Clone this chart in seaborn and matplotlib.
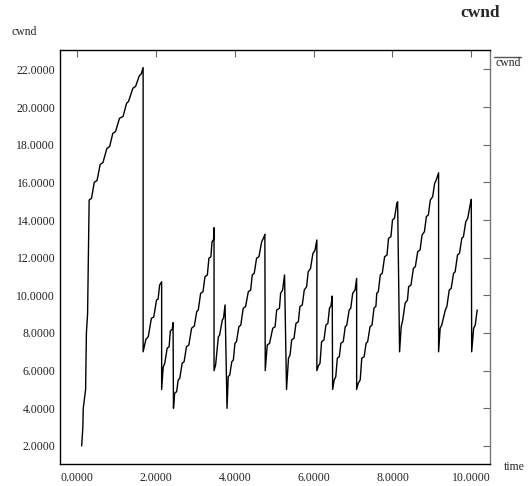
"""cwnd trace over time - xgraph style chart redrawn with seaborn"""
import pandas as pd
import matplotlib
matplotlib.use('Agg')
import matplotlib.pyplot as plt
import seaborn as sns
from matplotlib.lines import Line2D

# Data (time in s, cwnd in packets), one ramp per line
time_s = [
    0.11, 0.14, 0.15, 0.21, 0.23, 0.26, 0.30,
    0.36, 0.43, 0.50, 0.58, 0.65, 0.75, 0.82, 0.90, 0.97, 1.07, 1.16, 1.25, 1.30, 1.41, 1.48, 1.57, 1.62, 1.67,
    1.67, 1.74, 1.80, 1.88, 1.94, 2.01, 2.05, 2.09, 2.14,
    2.14, 2.18, 2.22, 2.28, 2.33, 2.36, 2.41, 2.43,
    2.44, 2.47, 2.52, 2.56, 2.60, 2.66, 2.71, 2.77, 2.83, 2.90, 2.97, 3.03, 3.07, 3.13, 3.19, 3.24, 3.30, 3.34, 3.39, 3.42, 3.46, 3.47,
    3.47, 3.51, 3.58, 3.61, 3.68, 3.71, 3.75,
    3.80, 3.83, 3.87, 3.92, 3.96, 4.00, 4.04, 4.10, 4.15, 4.21, 4.27, 4.34, 4.40, 4.44, 4.49, 4.55, 4.61, 4.68, 4.73, 4.76,
    4.77, 4.82, 4.88, 4.96, 5.02, 5.06, 5.13, 5.16, 5.21, 5.26,
    5.31, 5.36, 5.40, 5.44, 5.50, 5.55, 5.61, 5.65, 5.71, 5.76, 5.82, 5.86, 5.92, 5.98, 6.03, 6.08,
    6.08, 6.12, 6.16, 6.20, 6.26, 6.31, 6.36, 6.40, 6.44, 6.47,
    6.48, 6.52, 6.56, 6.60, 6.65, 6.69, 6.75, 6.80, 6.84, 6.90, 6.94, 6.99, 7.05, 7.09,
    7.09, 7.13, 7.18, 7.22, 7.28, 7.33, 7.37, 7.43, 7.48, 7.53, 7.58, 7.60, 7.64, 7.69, 7.74, 7.80, 7.86, 7.90, 7.96, 8.00, 8.05, 8.11, 8.13,
    8.18, 8.22, 8.26, 8.32, 8.38, 8.41, 8.47, 8.53, 8.58, 8.64, 8.70, 8.75, 8.81, 8.86, 8.91, 8.96, 9.02, 9.07, 9.11, 9.17,
    9.17, 9.21, 9.25, 9.34, 9.38, 9.44, 9.49, 9.55, 9.59, 9.65, 9.70, 9.76, 9.80, 9.86, 9.91, 9.97, 10.00,
    10.01, 10.06, 10.10, 10.15,
]
cwnd = [
    2.0, 3.0, 4.0, 5.0, 8.0, 9.0, 15.06,
    15.15, 16.0, 16.1, 16.95, 17.05, 17.8, 17.9, 18.6, 18.7, 19.4, 19.5, 20.2, 20.3, 21.0, 21.1, 21.65, 21.75, 22.1,
    7.0, 7.66, 7.8, 8.78, 8.85, 9.75, 9.8, 10.55, 10.72,
    5.0, 6.2, 6.39, 7.19, 7.27, 8.1, 8.2, 8.55,
    4.0, 4.8, 4.88, 5.5, 5.59, 6.39, 6.47, 7.27, 7.36, 8.25, 8.37, 9.13, 9.22, 10.11, 10.19, 10.99, 11.08, 11.97, 12.05, 12.85, 12.97, 13.59,
    6.0, 6.3, 7.8, 7.88, 8.69, 8.78, 9.49,
    4.0, 5.68, 5.77, 6.47, 6.56, 7.45, 7.54, 8.33, 8.42, 9.31, 9.4, 10.19, 10.28, 11.08, 11.17, 11.97, 12.05, 12.85, 13.06, 13.24,
    6.0, 7.36, 7.45, 8.25, 8.33, 9.22, 9.31, 10.11, 10.28, 11.08,
    5.0, 6.66, 6.83, 7.63, 7.72, 8.51, 8.6, 9.4, 9.49, 10.28, 10.46, 11.25, 11.43, 12.23, 12.37, 12.94,
    6.0, 6.26, 6.39, 7.54, 7.63, 8.42, 8.51, 9.31, 9.45, 9.96,
    5.0, 5.5, 5.68, 6.66, 6.74, 7.45, 7.54, 8.33, 8.42, 9.22, 9.31, 10.11, 10.28, 10.9,
    5.0, 5.33, 5.5, 6.66, 6.74, 7.45, 7.54, 8.33, 8.42, 9.31, 9.43, 10.11, 10.19, 11.08, 11.17, 12.05, 12.14, 13.03, 13.11, 14.0, 14.09, 14.89, 14.97,
    7.0, 8.33, 8.69, 9.58, 9.75, 10.46, 10.55, 11.43, 11.52, 12.32, 12.41, 13.2, 13.38, 14.18, 14.27, 15.06, 15.24, 15.95, 16.12, 16.51,
    7.0, 8.25, 8.42, 9.22, 9.4, 10.28, 10.37, 11.17, 11.25, 12.14, 12.23, 13.03, 13.11, 13.91, 14.09, 14.8, 15.1,
    7.0, 8.25, 8.42, 9.22,
]
x_ticks = [0, 2, 4, 6, 8, 10]
y_ticks = [2, 4, 6, 8, 10, 12, 14, 16, 18, 20, 22]

df = pd.DataFrame({'time': time_s, 'cwnd': cwnd})

sns.set_style('white')
plt.rcParams['font.family'] = ['Liberation Serif', 'DejaVu Serif']

fig = plt.figure(figsize=(5.3, 4.86), dpi=100)
ax = fig.add_axes([60 / 530, 1 - 464 / 486, 430 / 530, 414 / 486])

sns.lineplot(data=df, x='time', y='cwnd', sort=False, estimator=None,
             color='black', linewidth=1.0, ax=ax, legend=False)

ax.set_xlim(-0.44, 10.475)
ax.set_ylim(1.04, 23.03)
ax.set_xticks(x_ticks)
ax.set_yticks(y_ticks)
ax.set_xticklabels([f'{v:.4f}' for v in x_ticks])
ax.set_yticklabels([f'{v:.4f}' for v in y_ticks])
ax.set_xlabel('')
ax.set_ylabel('')
ax.tick_params(direction='in', length=5, width=0.8, color='#666666',
               top=True, right=True, labelsize=8.5, labelcolor='#222222')
ax.tick_params(axis='x', pad=5.5)
ax.tick_params(axis='y', pad=3.5)
for side in ['left', 'bottom', 'top']:
    ax.spines[side].set_color('black')
    ax.spines[side].set_linewidth(1.0)
ax.spines['right'].set_color('#777777')
ax.spines['right'].set_linewidth(1.0)

# xgraph style labels placed round the frame
fig.text(500 / 530, 1 - 13 / 486, 'cwnd', ha='right', va='center',
         fontsize=12.5, fontweight='bold')
fig.text(12 / 530, 1 - 32 / 486, 'cwnd', ha='left', va='center', fontsize=8.5)
fig.text(504 / 530, 1 - 467 / 486, 'time', ha='left', va='center', fontsize=8.5)
fig.text(496 / 530, 1 - 63 / 486, 'cwnd', ha='left', va='center', fontsize=8.5)
fig.add_artist(Line2D([494 / 530, 521 / 530], [1 - 57 / 486, 1 - 57 / 486],
                      transform=fig.transFigure, color='#555555', lw=1.0))

plt.savefig('out.png', dpi=100)
